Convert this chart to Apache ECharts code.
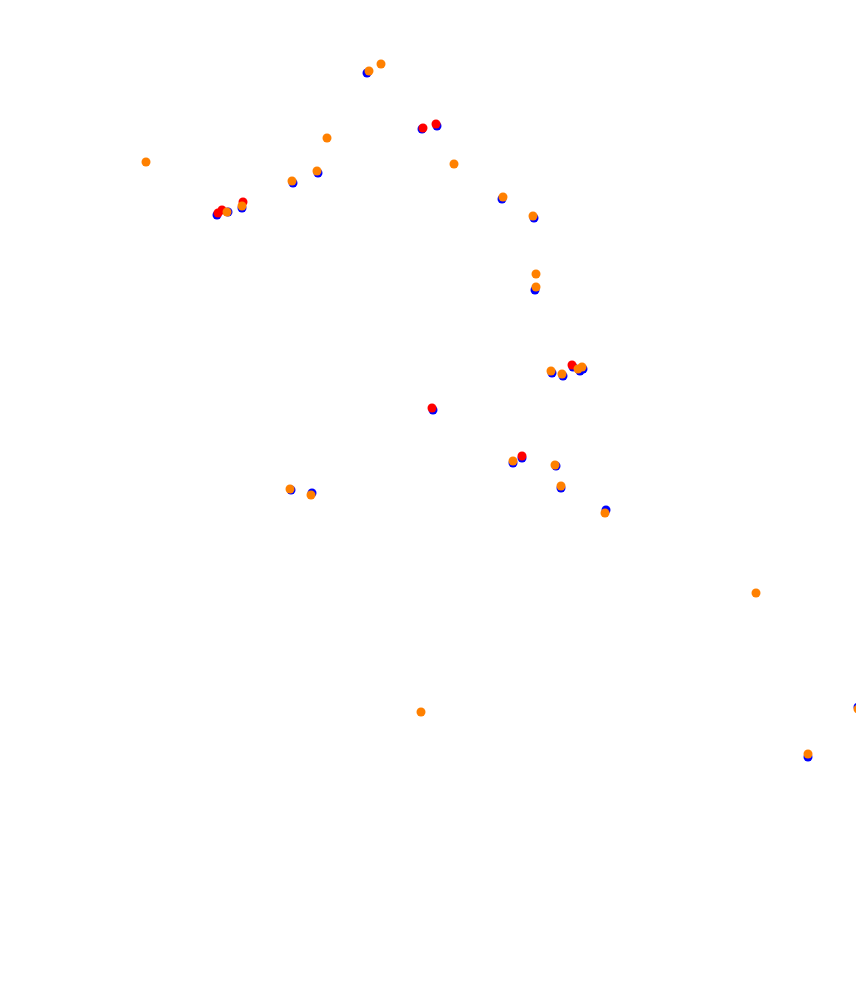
<!DOCTYPE html>
<html><head><meta charset="utf-8">
<script src="https://cdn.jsdelivr.net/npm/echarts@6/dist/echarts.min.js"></script>
<style>html,body{margin:0;padding:0;background:#fff}#c{width:856px;height:982px}</style>
</head><body><div id="c"></div>
<script>
const blueX = [217,228,242,293,318,367,422,437,502,534,535,552,563,573,580,583,513,522,556,561,606,291,312,808,858,433];
const blueY = [215,212,208,183,173,73,129,126,199,218,290,373,376,367,371,369,463,458,466,488,510,490,493,757,707,410];
const redX = [218,222,243,423,436,572,432,522];
const redY = [213,210,202,128,124,365,408,456];
const orangeX = [146,227,242,292,317,327,369,381,454,503,533,536,536,551,562,578,582,513,555,561,605,290,311,756,421,808,858];
const orangeY = [162,212,206,181,171,138,71,64,164,197,216,274,287,371,374,369,367,461,465,486,513,489,495,593,712,754,709];
const zip = (a,b)=>a.map((v,i)=>[v,b[i]]);
const chart = echarts.init(document.getElementById('c'));
chart.setOption({
  animation:false,
  backgroundColor:'#ffffff',
  grid:{left:0,right:0,top:0,bottom:0},
  xAxis:{type:'value',min:0,max:856,show:false},
  yAxis:{type:'value',min:0,max:982,inverse:true,show:false},
  series:[
    {type:'scatter',data:zip(blueX,blueY),symbolSize:9,clip:false,itemStyle:{color:'#0000ff',opacity:1}},
    {type:'scatter',data:zip(redX,redY),symbolSize:9,clip:false,itemStyle:{color:'#ff0000',opacity:1}},
    {type:'scatter',data:zip(orangeX,orangeY),symbolSize:9,clip:false,itemStyle:{color:'#ff8000',opacity:1}}
  ]
});
</script></body></html>
